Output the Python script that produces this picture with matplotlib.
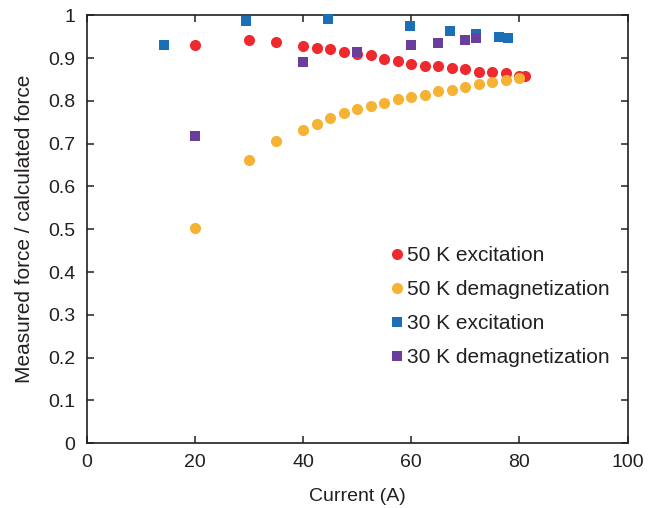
import matplotlib
matplotlib.use('Agg')
import matplotlib.pyplot as plt

plt.rcParams['font.family'] = ['Liberation Sans', 'DejaVu Sans']

# 50 K excitation
x_50e = [20, 30, 35, 40, 42.5, 45, 47.5, 50, 52.5, 55, 57.5, 60, 62.5, 65, 67.5, 70, 72.5, 75, 77.5, 80, 81]
y_50e = [0.930, 0.943, 0.937, 0.928, 0.924, 0.921, 0.915, 0.910, 0.908, 0.897, 0.893,
         0.886, 0.882, 0.882, 0.877, 0.875, 0.868, 0.867, 0.866, 0.859, 0.857]

# 50 K demagnetization
x_50d = [20, 30, 35, 40, 42.5, 45, 47.5, 50, 52.5, 55, 57.5, 60, 62.5, 65, 67.5, 70, 72.5, 75, 77.5, 80]
y_50d = [0.504, 0.662, 0.706, 0.733, 0.745, 0.761, 0.771, 0.781, 0.789, 0.795,
         0.804, 0.808, 0.814, 0.823, 0.825, 0.832, 0.839, 0.843, 0.848, 0.854]

# 30 K excitation
x_30e = [14.3, 29.5, 44.6, 59.7, 67.2, 72, 76.3, 77.8]
y_30e = [0.931, 0.986, 0.991, 0.974, 0.964, 0.956, 0.950, 0.946]

# 30 K demagnetization
x_30d = [20, 40, 50, 60, 65, 70, 72]
y_30d = [0.719, 0.891, 0.913, 0.931, 0.936, 0.942, 0.946]

txt = '#231F20'

fig = plt.figure(figsize=(6.62, 5.08), dpi=100)
ax = fig.add_axes([0.131, 0.1274, 0.817, 0.8426])

ax.plot(x_50e, y_50e, 'o', color='#EE2A2E', ms=8, mew=0, label='50 K excitation', clip_on=False, zorder=3)
ax.plot(x_50d, y_50d, 'o', color='#F6B233', ms=8, mew=0, label='50 K demagnetization', clip_on=False, zorder=3)
ax.plot(x_30e, y_30e, 's', color='#1C6FB7', ms=7.5, mew=0, label='30 K excitation', clip_on=False, zorder=3)
ax.plot(x_30d, y_30d, 's', color='#6A3F9B', ms=7.5, mew=0, label='30 K demagnetization', clip_on=False, zorder=3)

ax.set_xlim(0, 100)
ax.set_ylim(0, 1)
ax.set_xticks([0, 20, 40, 60, 80, 100])
ax.set_yticks([0, 0.1, 0.2, 0.3, 0.4, 0.5, 0.6, 0.7, 0.8, 0.9, 1])
ax.set_yticklabels(['0', '0.1', '0.2', '0.3', '0.4', '0.5', '0.6', '0.7', '0.8', '0.9', '1'])

for s in ax.spines.values():
    s.set_linewidth(1.2)
    s.set_color(txt)
ax.tick_params(direction='in', length=5, width=1.1, colors=txt, labelsize=14,
               top=True, right=True, pad=8)

ax.set_xlabel('Current (A)', fontsize=14, color=txt, labelpad=12)
ax.set_ylabel('Measured force / calculated force', fontsize=15, color=txt, labelpad=10)

leg = ax.legend(loc='upper left', bbox_to_anchor=(0.562, 0.461), frameon=False,
                fontsize=15, handlelength=0.6, handletextpad=0.2, labelspacing=0.72,
                borderpad=0, borderaxespad=0, markerscale=1.0)
for t in leg.get_texts():
    t.set_color(txt)

fig.savefig('out.png', dpi=100)
